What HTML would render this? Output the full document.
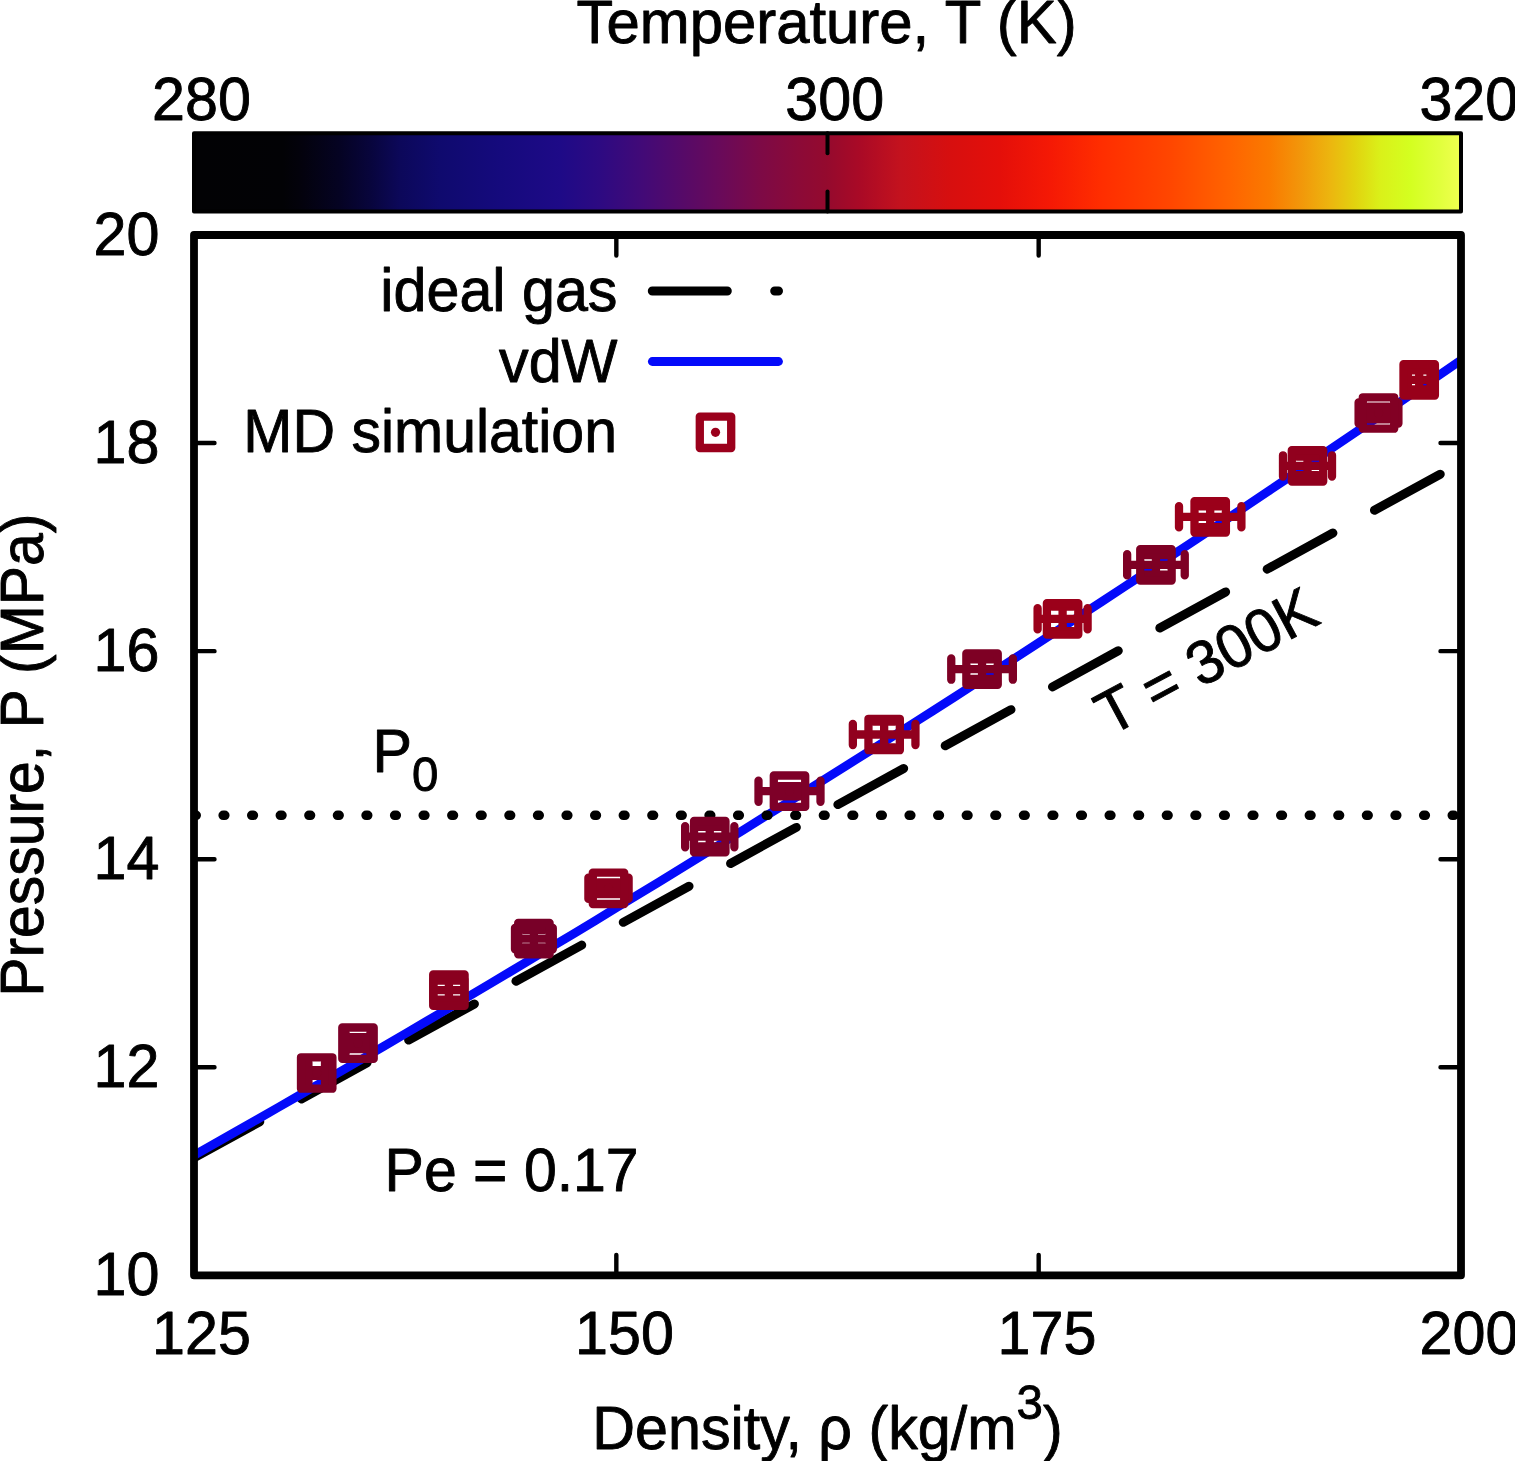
<!DOCTYPE html>
<html><head><meta charset="utf-8"><title>P vs density</title>
<style>html,body{margin:0;padding:0;background:#fff;overflow:hidden}svg{display:block}</style></head>
<body><svg width="1515" height="1461" viewBox="0 0 1515 1461">
<rect width="1515" height="1461" fill="#fff"/>
<defs><linearGradient id="cb" x1="0" y1="0" x2="1" y2="0"><stop offset="0.000" stop-color="rgb(2,2,4)"/><stop offset="0.070" stop-color="rgb(2,2,5)"/><stop offset="0.084" stop-color="rgb(3,2,12)"/><stop offset="0.115" stop-color="rgb(5,3,35)"/><stop offset="0.139" stop-color="rgb(8,5,60)"/><stop offset="0.163" stop-color="rgb(12,8,90)"/><stop offset="0.194" stop-color="rgb(15,10,110)"/><stop offset="0.242" stop-color="rgb(21,10,125)"/><stop offset="0.289" stop-color="rgb(30,10,135)"/><stop offset="0.320" stop-color="rgb(45,10,130)"/><stop offset="0.352" stop-color="rgb(65,10,120)"/><stop offset="0.384" stop-color="rgb(85,10,105)"/><stop offset="0.415" stop-color="rgb(105,10,90)"/><stop offset="0.447" stop-color="rgb(125,10,70)"/><stop offset="0.478" stop-color="rgb(140,10,55)"/><stop offset="0.499" stop-color="rgb(148,10,46)"/><stop offset="0.526" stop-color="rgb(170,10,38)"/><stop offset="0.557" stop-color="rgb(195,18,30)"/><stop offset="0.597" stop-color="rgb(215,15,15)"/><stop offset="0.636" stop-color="rgb(228,15,10)"/><stop offset="0.676" stop-color="rgb(245,25,5)"/><stop offset="0.715" stop-color="rgb(255,45,0)"/><stop offset="0.770" stop-color="rgb(255,70,0)"/><stop offset="0.818" stop-color="rgb(255,100,0)"/><stop offset="0.849" stop-color="rgb(250,122,0)"/><stop offset="0.873" stop-color="rgb(242,150,10)"/><stop offset="0.897" stop-color="rgb(236,182,15)"/><stop offset="0.916" stop-color="rgb(226,210,15)"/><stop offset="0.936" stop-color="rgb(218,240,25)"/><stop offset="0.960" stop-color="rgb(212,255,32)"/><stop offset="0.983" stop-color="rgb(225,255,60)"/><stop offset="1.000" stop-color="rgb(240,255,80)"/></linearGradient><clipPath id="pc"><rect x="194.0" y="235.0" width="1267.0" height="1040.35"/></clipPath></defs>
<rect x="194.0" y="133.2" width="1267.0" height="78.20000000000002" fill="url(#cb)"/>
<g stroke="#000" stroke-width="4" stroke-linecap="round" fill="none"><line x1="827.5" y1="133.2" x2="827.5" y2="153.2"/><line x1="827.5" y1="211.4" x2="827.5" y2="191.4"/></g>
<rect x="194.0" y="133.2" width="1267.0" height="78.20000000000002" fill="none" stroke="#000" stroke-width="4" stroke-linejoin="round"/>
<g clip-path="url(#pc)">
<line x1="194.0" y1="1157.8" x2="1461.0" y2="462.8" stroke="#000" stroke-width="9" stroke-linecap="round" stroke-dasharray="75 47.4"/>
<polyline points="194.0,1155.33 215.1,1143.37 236.2,1131.38 257.4,1119.33 278.5,1107.25 299.6,1095.11 320.7,1082.94 341.8,1070.72 362.9,1058.46 384.1,1046.15 405.2,1033.80 426.3,1021.40 447.4,1008.96 468.5,996.48 489.6,983.95 510.8,971.38 531.9,958.76 553.0,946.10 574.1,933.40 595.2,920.65 616.3,907.86 637.5,895.02 658.6,882.14 679.7,869.22 700.8,856.25 721.9,843.24 743.0,830.18 764.1,817.08 785.3,803.94 806.4,790.75 827.5,777.51 848.6,764.24 869.7,750.92 890.9,737.55 912.0,724.14 933.1,710.69 954.2,697.19 975.3,683.65 996.4,670.07 1017.5,656.44 1038.7,642.76 1059.8,629.05 1080.9,615.29 1102.0,601.48 1123.1,587.63 1144.2,573.74 1165.4,559.80 1186.5,545.82 1207.6,531.79 1228.7,517.72 1249.8,503.61 1271.0,489.45 1292.1,475.25 1313.2,461.00 1334.3,446.71 1355.4,432.38 1376.5,418.00 1397.7,403.58 1418.8,389.11 1439.9,374.60 1461.0,360.05" fill="none" stroke="#040afa" stroke-width="8.8" stroke-linejoin="round"/>
<line x1="194.6" y1="815.3" x2="1467.0" y2="815.3" stroke="#000" stroke-width="9.6" stroke-linecap="round" stroke-dasharray="1.6 26.984"/>
</g>
<g stroke="rgb(126,0,38)" stroke-width="8.3" fill="none" stroke-linecap="round" stroke-linejoin="round"><path d="M308.40,1073.00H325.00M308.40,1062.40V1083.60M325.00,1062.40V1083.60M316.70,1070.25V1075.75M306.10,1070.25H327.30M306.10,1075.75H327.30"/><rect x="301.00" y="1057.30" width="31.40" height="31.40"/><circle cx="316.70" cy="1073.00" r="4.6" fill="rgb(126,0,38)" stroke="none"/></g>
<g stroke="rgb(124,0,40)" stroke-width="8.3" fill="none" stroke-linecap="round" stroke-linejoin="round"><path d="M345.55,1043.20H370.45M345.55,1032.60V1053.80M370.45,1032.60V1053.80M358.00,1037.25V1049.15M347.40,1037.25H368.60M347.40,1049.15H368.60"/><rect x="342.30" y="1027.50" width="31.40" height="31.40"/><circle cx="358.00" cy="1043.20" r="4.6" fill="rgb(124,0,40)" stroke="none"/></g>
<g stroke="rgb(138,0,31)" stroke-width="8.3" fill="none" stroke-linecap="round" stroke-linejoin="round"><path d="M433.40,990.20H464.40M433.40,979.60V1000.80M464.40,979.60V1000.80M448.90,980.70V999.70M438.30,980.70H459.50M438.30,999.70H459.50"/><rect x="433.20" y="974.50" width="31.40" height="31.40"/><circle cx="448.90" cy="990.20" r="4.6" fill="rgb(138,0,31)" stroke="none"/></g>
<g stroke="rgb(120,0,40)" stroke-width="8.3" fill="none" stroke-linecap="round" stroke-linejoin="round"><path d="M515.00,938.60H552.80M515.00,928.00V949.20M552.80,928.00V949.20M533.90,929.75V947.45M523.30,929.75H544.50M523.30,947.45H544.50"/><rect x="518.20" y="922.90" width="31.40" height="31.40"/><circle cx="533.90" cy="938.60" r="4.6" fill="rgb(120,0,40)" stroke="none"/></g>
<g stroke="rgb(140,0,32)" stroke-width="8.3" fill="none" stroke-linecap="round" stroke-linejoin="round"><path d="M588.40,888.30H628.60M588.40,877.70V898.90M628.60,877.70V898.90M608.50,882.40V894.20M597.90,882.40H619.10M597.90,894.20H619.10"/><rect x="592.80" y="872.60" width="31.40" height="31.40"/><circle cx="608.50" cy="888.30" r="4.6" fill="rgb(140,0,32)" stroke="none"/></g>
<g stroke="rgb(125,0,40)" stroke-width="8.3" fill="none" stroke-linecap="round" stroke-linejoin="round"><path d="M685.15,836.70H734.35M685.15,826.10V847.30M734.35,826.10V847.30M709.75,826.95V846.45M699.15,826.95H720.35M699.15,846.45H720.35"/><rect x="694.05" y="821.00" width="31.40" height="31.40"/><circle cx="709.75" cy="836.70" r="4.6" fill="rgb(125,0,40)" stroke="none"/></g>
<g stroke="rgb(126,0,40)" stroke-width="8.3" fill="none" stroke-linecap="round" stroke-linejoin="round"><path d="M758.50,791.20H820.50M758.50,780.60V801.80M820.50,780.60V801.80M789.50,786.15V796.25M778.90,786.15H800.10M778.90,796.25H800.10"/><rect x="773.80" y="775.50" width="31.40" height="31.40"/><circle cx="789.50" cy="791.20" r="4.6" fill="rgb(126,0,40)" stroke="none"/></g>
<g stroke="rgb(145,0,30)" stroke-width="8.3" fill="none" stroke-linecap="round" stroke-linejoin="round"><path d="M852.85,734.50H915.45M852.85,723.90V745.10M915.45,723.90V745.10M884.15,721.50V747.50M873.55,721.50H894.75M873.55,747.50H894.75"/><rect x="868.45" y="718.80" width="31.40" height="31.40"/><circle cx="884.15" cy="734.50" r="4.6" fill="rgb(145,0,30)" stroke="none"/></g>
<g stroke="rgb(126,0,36)" stroke-width="8.3" fill="none" stroke-linecap="round" stroke-linejoin="round"><path d="M951.25,669.10H1012.85M951.25,658.50V679.70M1012.85,658.50V679.70M982.05,659.35V678.85M971.45,659.35H992.65M971.45,678.85H992.65"/><rect x="966.35" y="653.40" width="31.40" height="31.40"/><circle cx="982.05" cy="669.10" r="4.6" fill="rgb(126,0,36)" stroke="none"/></g>
<g stroke="rgb(155,0,26)" stroke-width="8.3" fill="none" stroke-linecap="round" stroke-linejoin="round"><path d="M1037.60,618.80H1087.60M1037.60,608.20V629.40M1087.60,608.20V629.40M1062.60,606.50V631.10M1052.00,606.50H1073.20M1052.00,631.10H1073.20"/><rect x="1046.90" y="603.10" width="31.40" height="31.40"/><circle cx="1062.60" cy="618.80" r="4.6" fill="rgb(155,0,26)" stroke="none"/></g>
<g stroke="rgb(126,0,36)" stroke-width="8.3" fill="none" stroke-linecap="round" stroke-linejoin="round"><path d="M1127.15,564.80H1184.75M1127.15,554.20V575.40M1184.75,554.20V575.40M1155.95,555.05V574.55M1145.35,555.05H1166.55M1145.35,574.55H1166.55"/><rect x="1140.25" y="549.10" width="31.40" height="31.40"/><circle cx="1155.95" cy="564.80" r="4.6" fill="rgb(126,0,36)" stroke="none"/></g>
<g stroke="rgb(155,0,26)" stroke-width="8.3" fill="none" stroke-linecap="round" stroke-linejoin="round"><path d="M1179.00,516.80H1241.40M1179.00,506.20V527.40M1241.40,506.20V527.40M1210.20,506.40V527.20M1199.60,506.40H1220.80M1199.60,527.20H1220.80"/><rect x="1194.50" y="501.10" width="31.40" height="31.40"/><circle cx="1210.20" cy="516.80" r="4.6" fill="rgb(155,0,26)" stroke="none"/></g>
<g stroke="rgb(145,0,30)" stroke-width="8.3" fill="none" stroke-linecap="round" stroke-linejoin="round"><path d="M1283.00,465.90H1332.00M1283.00,455.30V476.50M1332.00,455.30V476.50M1307.50,456.60V475.20M1296.90,456.60H1318.10M1296.90,475.20H1318.10"/><rect x="1291.80" y="450.20" width="31.40" height="31.40"/><circle cx="1307.50" cy="465.90" r="4.6" fill="rgb(145,0,30)" stroke="none"/></g>
<g stroke="rgb(130,0,36)" stroke-width="8.3" fill="none" stroke-linecap="round" stroke-linejoin="round"><path d="M1358.60,413.00H1398.40M1358.60,402.40V423.60M1398.40,402.40V423.60M1378.50,406.65V419.35M1367.90,406.65H1389.10M1367.90,419.35H1389.10"/><rect x="1362.80" y="397.30" width="31.40" height="31.40"/><circle cx="1378.50" cy="413.00" r="4.6" fill="rgb(130,0,36)" stroke="none"/></g>
<g stroke="rgb(152,0,26)" stroke-width="8.3" fill="none" stroke-linecap="round" stroke-linejoin="round"><path d="M1407.85,379.90H1430.55M1407.85,369.30V390.50M1430.55,369.30V390.50M1419.20,370.35V389.45M1408.60,370.35H1429.80M1408.60,389.45H1429.80"/><rect x="1403.50" y="364.20" width="31.40" height="31.40"/><circle cx="1419.20" cy="379.90" r="4.6" fill="rgb(152,0,26)" stroke="none"/></g>
<path d="M194.0,1067.28H214.5M1461.0,1067.28H1440.5M194.0,859.21H214.5M1461.0,859.21H1440.5M194.0,651.14H214.5M1461.0,651.14H1440.5M194.0,443.07H214.5M1461.0,443.07H1440.5M616.33,235.0V255.5M616.33,1275.35V1254.85M1038.67,235.0V255.5M1038.67,1275.35V1254.85" stroke="#000" stroke-width="4.4" stroke-linecap="round" fill="none"/>
<rect x="194.0" y="235.0" width="1267.0" height="1040.35" fill="none" stroke="#000" stroke-width="7.8" stroke-linejoin="round"/>
<line x1="652.3" y1="291" x2="778.5" y2="291" stroke="#000" stroke-width="9" stroke-linecap="round" stroke-dasharray="75 47.4"/>
<line x1="652.3" y1="361.5" x2="778.5" y2="361.5" stroke="#040afa" stroke-width="8.8" stroke-linecap="round"/>
<g stroke="rgb(155,0,28)" stroke-width="8.3" fill="none" stroke-linecap="round" stroke-linejoin="round"><rect x="699.80" y="416.60" width="31.40" height="31.40"/><circle cx="715.50" cy="432.30" r="4.6" fill="rgb(155,0,28)" stroke="none"/></g>
<g font-family="'Liberation Sans', Arial, Helvetica, sans-serif" fill="#000" stroke="#000" stroke-width="0.9" stroke-linejoin="round">
<text transform="translate(617.50,311.10) scale(0.9681372549019607,1)" text-anchor="end" font-size="61.2">ideal gas</text>
<text transform="translate(617.50,381.50) scale(0.9681372549019607,1)" text-anchor="end" font-size="61.2">vdW</text>
<text transform="translate(617.00,451.60) scale(0.9640522875816993,1)" text-anchor="end" font-size="61.2">MD simulation</text>
<text transform="translate(576.60,43.20) scale(0.9780433006535947,1)" text-anchor="start" font-size="61.2">Temperature, T (K)</text>
<text transform="translate(152.00,120.20) scale(0.9681372549019607,1)" text-anchor="start" font-size="61.2">280</text>
<text transform="translate(785.30,120.20) scale(0.9681372549019607,1)" text-anchor="start" font-size="61.2">300</text>
<text transform="translate(1419.40,120.20) scale(0.9681372549019607,1)" text-anchor="start" font-size="61.2">320</text>
<text transform="translate(159.50,1295.45) scale(0.9681372549019607,1)" text-anchor="end" font-size="61.2">10</text>
<text transform="translate(159.50,1087.38) scale(0.9681372549019607,1)" text-anchor="end" font-size="61.2">12</text>
<text transform="translate(159.50,879.31) scale(0.9681372549019607,1)" text-anchor="end" font-size="61.2">14</text>
<text transform="translate(159.50,671.24) scale(0.9681372549019607,1)" text-anchor="end" font-size="61.2">16</text>
<text transform="translate(159.50,463.17) scale(0.9681372549019607,1)" text-anchor="end" font-size="61.2">18</text>
<text transform="translate(159.50,255.10) scale(0.9681372549019607,1)" text-anchor="end" font-size="61.2">20</text>
<text transform="translate(152.00,1354.00) scale(0.9681372549019607,1)" text-anchor="start" font-size="61.2">125</text>
<text transform="translate(575.00,1354.00) scale(0.9681372549019607,1)" text-anchor="start" font-size="61.2">150</text>
<text transform="translate(997.50,1354.00) scale(0.9681372549019607,1)" text-anchor="start" font-size="61.2">175</text>
<text transform="translate(1419.50,1354.00) scale(0.9681372549019607,1)" text-anchor="start" font-size="61.2">200</text>
<text transform="translate(43.00,996.80) rotate(-90) scale(0.9622140522875816,1)" text-anchor="start" font-size="61.2">Pressure, P (MPa)</text>
<text transform="translate(592.30,1448.50) scale(0.9681372549019607,1)" text-anchor="start" font-size="61.2">Density, ρ (kg/m<tspan font-size="49" dy="-29.4">3</tspan><tspan dy="29.4">)</tspan></text>
<text transform="translate(372.50,771.80) scale(0.9681372549019607,1)" text-anchor="start" font-size="61.2">P<tspan font-size="49" dy="18.7">0</tspan></text>
<text transform="translate(384.60,1190.60) scale(0.96343954248366,1)" text-anchor="start" font-size="61.2">Pe = 0.17</text>
<text transform="translate(1110.00,736.50) rotate(-28.2) scale(0.9681372549019607,1)" text-anchor="start" font-size="61.2">T = 300K</text>
</g>
</svg></body></html>
